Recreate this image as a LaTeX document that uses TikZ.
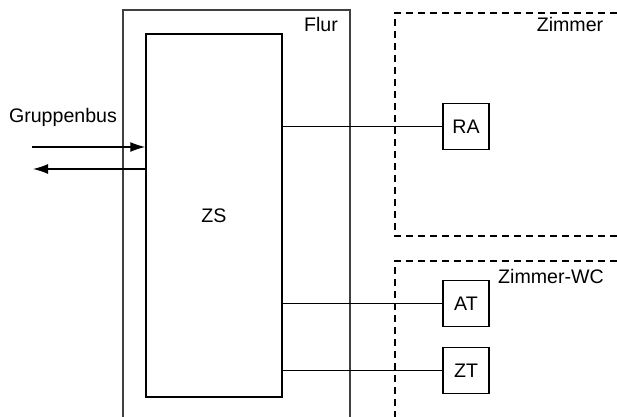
\documentclass[tikz,border=0pt]{standalone}
\usepackage{fontspec}
\setmainfont{Liberation Sans}
\usepackage{tikz}
\usetikzlibrary{arrows.meta, positioning, calc}

\tikzset{
    box/.style={draw, line width=0.75pt, minimum width=23pt, minimum height=23pt, inner sep=0pt},
    room/.style={line width=1pt, dash pattern=on 3.5pt off 2.5pt},
    wire/.style={line width=0.5pt},
    bus/.style={-{Latex[length=7.5pt,width=5pt]}, line width=0.6pt}
}

\begin{document}
\begin{tikzpicture}[x=0.5pt,y=-0.5pt,font=\fontsize{9.8}{12}\selectfont]
        \useasboundingbox (0,0) rectangle (617,417);

            % Flur
            \draw[line width=0.6pt, black!75] (123,417) -- (123,10) -- (350,10) -- (350,417);
            \node (flur) at (321,24) {Flur};

            % Zimmer und Zimmer-WC
            \draw[room] (617,13) -- (395,13) -- (395,236) -- (617,236);
            \draw[room] (617,261) -- (395,261) -- (395,417);
            \node (zimmer) at (570,24) {Zimmer};
            \node (wc) at (551,276) {Zimmer-WC};

            % Zentrale
            \node[draw, line width=0.75pt, minimum width=68pt, minimum height=181.5pt, inner sep=0pt] (ZS) at (214,215.5) {ZS};

            \node[box] (RA) at (466,126.5) {RA};
            \node[box] (AT) at (466,303.5) {AT};
            \node[box] (ZT) at (466,370.5) {ZT};

            \draw[wire] (ZS.east |- RA) -- (RA);
            \draw[wire] (ZS.east |- AT) -- (AT);
            \draw[wire] (ZS.east |- ZT) -- (ZT);

            % Gruppenbus
            \node (gb) at (63,117) {Gruppenbus};
            \coordinate (busin) at (32,147);
            \coordinate (busout) at (33,169);
            \draw[bus] (busin) -- (busin -| ZS.west);
            \draw[bus] (busout -| ZS.west) -- (busout);
        \end{tikzpicture}
\end{document}
